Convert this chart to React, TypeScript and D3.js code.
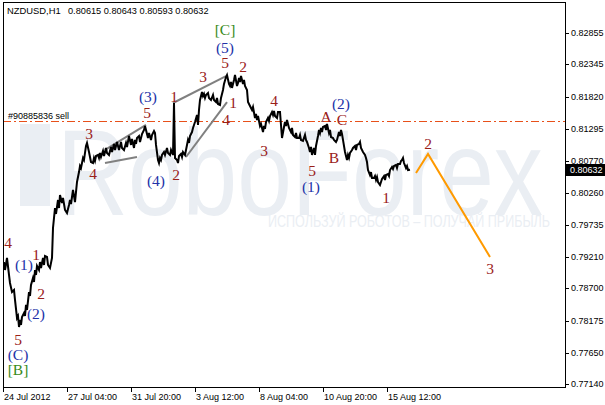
import React from 'react';
import * as d3 from 'd3';

const W = 605;
const H = 405;

const symbolName = 'NZDUSD,H1';
const symbolQuotes = '0.80615 0.80643 0.80593 0.80632';
const yTicks = [0.82855, 0.82345, 0.8182, 0.81295, 0.8077, 0.8026, 0.79735, 0.7921, 0.787, 0.78175, 0.7765, 0.7714];
const xTickBars = [0, 64, 128, 192, 256, 320, 384];
const xTickLabels = ['24 Jul 2012', '27 Jul 04:00', '31 Jul 20:00', '3 Aug 12:00', '8 Aug 04:00', '10 Aug 20:00', '15 Aug 12:00'];
const lastPrice = 0.80632;
const sellLevel = 0.81424;
const sellLabel = '#90885836 sell';
const watermarkText = 'RoboForex';
const watermarkSub = 'ИСПОЛЬЗУЙ РОБОТОВ – ПОЛУЧАЙ ПРИБЫЛЬ';

// [bar index, price]
const closeSeries: [number, number][] = [
  [1,0.79129],[2,0.79000],[4,0.79195],[6,0.78919],[7,0.78788],[9,0.78641],[11,0.78674],[12,0.78512],
  [14,0.78219],[15,0.78251],[16,0.78072],[17,0.78186],[18,0.78105],[19,0.78235],[21,0.78300],[22,0.78251],
  [23,0.78431],[24,0.78349],[26,0.78641],[27,0.78576],[28,0.78756],[30,0.78870],[31,0.78804],[32,0.79000],
  [33,0.78919],[34,0.79064],[36,0.79000],[37,0.79129],[38,0.79032],[40,0.79195],[41,0.79081],[42,0.79227],
  [44,0.79211],[45,0.79081],[47,0.79032],[49,0.79195],[50,0.79683],[52,0.80008],[53,0.79911],[55,0.80138],
  [56,0.80008],[57,0.80220],[59,0.80089],[60,0.80171],[62,0.79976],[64,0.79927],[66,0.80057],[67,0.80138],
  [68,0.80073],[70,0.80301],[72,0.80105],[74,0.80431],[76,0.80593],[77,0.80691],[78,0.80659],[80,0.80822],
  [81,0.80789],[83,0.81017],[84,0.81066],[86,0.80919],[88,0.80756],[90,0.80740],[91,0.80822],[92,0.80773],
  [93,0.80854],[95,0.80871],[96,0.80822],[97,0.80903],[98,0.80838],[100,0.80936],[101,0.80854],[103,0.80985],
  [104,0.80903],[106,0.80871],[108,0.81001],[109,0.80919],[111,0.81050],[112,0.80952],[114,0.81082],[116,0.80952],
  [118,0.81082],[119,0.80985],[121,0.80952],[123,0.81066],[124,0.81001],[126,0.81179],[128,0.81034],[129,0.81131],
  [131,0.80985],[132,0.81115],[133,0.81050],[134,0.81147],[136,0.81179],[137,0.81082],[139,0.81212],[141,0.81277],
  [142,0.81342],[144,0.81212],[145,0.81147],[146,0.81228],[148,0.81115],[149,0.81196],[151,0.81261],[152,0.81228],
  [153,0.81034],[155,0.80789],[156,0.80740],[157,0.80822],[158,0.80789],[159,0.80871],[161,0.80919],[162,0.80871],
  [164,0.80985],[165,0.80903],[167,0.80871],[168,0.80952],[170,0.80871],[171,0.81716],[172,0.80822],[174,0.80789],
  [175,0.80740],[176,0.80854],[178,0.80887],[179,0.80838],[180,0.80919],[182,0.80871],[184,0.81034],[185,0.81115],
  [186,0.81066],[187,0.81179],[189,0.81244],[190,0.81310],[192,0.81407],[194,0.81522],[195,0.81359],[196,0.81603],
  [197,0.81765],[199,0.81895],[200,0.81830],[201,0.81863],[202,0.81798],[203,0.81847],[205,0.81879],[206,0.81798],
  [208,0.81765],[210,0.81847],[211,0.81765],[213,0.81732],[214,0.81798],[215,0.81700],[217,0.81684],[218,0.81798],
  [220,0.81928],[221,0.82026],[223,0.82139],[224,0.82172],[226,0.82026],[227,0.81993],[228,0.82058],[229,0.81961],
  [231,0.82091],[232,0.82172],[234,0.81993],[235,0.82042],[236,0.82123],[237,0.82058],[238,0.82155],[240,0.82026],
  [241,0.82091],[242,0.81993],[244,0.81928],[245,0.81732],[247,0.81667],[249,0.81603],[250,0.81651],[252,0.81473],
  [253,0.81538],[254,0.81440],[255,0.81505],[257,0.81342],[258,0.81375],[260,0.81244],[261,0.81342],[262,0.81294],
  [263,0.81407],[265,0.81473],[266,0.81424],[267,0.81505],[269,0.81570],[270,0.81522],[271,0.81587],[272,0.81505],
  [274,0.81473],[275,0.81570],[277,0.81570],[278,0.81359],[279,0.81147],[281,0.81326],[282,0.81407],[283,0.81342],
  [284,0.81440],[286,0.81310],[288,0.81244],[289,0.81310],[290,0.81196],[292,0.81163],[293,0.81228],[294,0.81147],
  [296,0.81147],[297,0.81196],[298,0.81115],[300,0.81099],[302,0.81196],[303,0.81115],[304,0.81082],[306,0.80985],
  [307,0.80919],[308,0.81001],[309,0.80871],[311,0.80985],[312,0.80871],[313,0.81017],[315,0.81179],[316,0.81277],
  [317,0.81228],[318,0.81310],[319,0.81244],[320,0.81326],[322,0.81342],[323,0.81277],[324,0.81375],[326,0.81228],
  [327,0.81277],[328,0.81163],[330,0.81147],[331,0.81115],[333,0.81082],[334,0.81115],[336,0.81244],[337,0.81179],
  [338,0.81277],[339,0.81212],[340,0.81115],[342,0.80919],[344,0.80789],[345,0.80871],[346,0.80822],[347,0.80903],
  [349,0.80952],[350,0.80985],[352,0.81017],[353,0.80952],[354,0.81034],[356,0.81050],[357,0.81082],[358,0.80985],
  [360,0.80919],[362,0.80871],[363,0.80822],[364,0.80756],[365,0.80626],[367,0.80545],[368,0.80593],[369,0.80496],
  [371,0.80496],[372,0.80528],[373,0.80464],[374,0.80512],[375,0.80431],[377,0.80383],[378,0.80431],[379,0.80480],
  [381,0.80528],[382,0.80464],[383,0.80545],[385,0.80561],[386,0.80528],[387,0.80626],[389,0.80675],[390,0.80643],
  [391,0.80691],[393,0.80708],[394,0.80659],[395,0.80724],[397,0.80724],[398,0.80773],[399,0.80789],[400,0.80822],
  [401,0.80740],[403,0.80659],[404,0.80691],[405,0.80626],[407,0.80632],
];

// Elliott wave labels: text, bar, price
const waveText = ['4','(1)','1','2','(2)','5','(C)','[B]','3','4','(3)','5','(4)','1','2','3','5','(5)','[C]','2','1','4','4','3','5','(1)','A','(2)','C','B','1','2','3'];
const waveBar = [5,21,33,38,33,15,15,15,86,90,145,144,153,171,173,200,222,222,222,240,230,223,271,261,309,308,323,338,339,331,383,425,487];
const wavePrice = [0.79439,0.79097,0.79244,0.78625,0.78284,0.77861,0.77617,0.77373,0.81228,0.80577,0.81814,0.81554,0.80448,0.81814,0.80545,0.82155,0.82383,0.82627,0.82904,0.82318,0.81732,0.8144,0.81749,0.80936,0.8061,0.8035,0.81489,0.81716,0.8144,0.80822,0.80171,0.8105,0.79016];

// gray wedge lines [bar1, price1, bar2, price2]
const wedgeLines: [number, number, number, number][] = [
  [102, 0.80952, 143, 0.81359],
  [102, 0.8074, 134, 0.80838],
  [170, 0.81716, 223, 0.82155],
  [183, 0.80838, 224, 0.81732],
];

// forecast path
const forecastBars = [413, 425, 487];
const forecastPrices = [0.80577, 0.80887, 0.79211];

const colorFor = (t: string) => {
  if (t.startsWith('[')) return '#3a8a18';
  if (t.startsWith('(')) return '#2232a8';
  return '#9a2018';
};

export default function App() {
  const left = 3, right = 565, top = 2, bottom = 387;
  const x = d3.scaleLinear().domain([0, 562]).range([left, right]);
  const y = d3.scaleLinear().domain([0.7714, 0.82855]).range([384.3, 33]);
  const line = d3.line<[number, number]>().x(d => x(d[0])).y(d => y(d[1]));
  const fc: [number, number][] = forecastBars.map((b, i) => [b, forecastPrices[i]]);
  const sans = 'Liberation Sans, Arial, sans-serif';
  const serif = 'Liberation Serif, Times New Roman, serif';
  const wm = '#eaeef3';

  return (
    <svg width={W} height={H} style={{ position: 'absolute', left: 0, top: 0, background: '#fff' }}>
      <rect x={0} y={0} width={W} height={H} fill="#fff" />
      {/* watermark */}
      <rect x={20} y={124} width={30} height={82} fill={wm} />
      <text x={57} y={215} fontFamily={sans} fontSize={122} fill={wm} textLength={486} lengthAdjust="spacingAndGlyphs">{watermarkText}</text>
      <text x={268} y={227} fontFamily={sans} fontSize={16} fill={wm} textLength={282} lengthAdjust="spacingAndGlyphs">{watermarkSub}</text>

      {/* sell level */}
      <line x1={left} x2={right} y1={Math.round(y(sellLevel)) + 0.5} y2={Math.round(y(sellLevel)) + 0.5} stroke="#e8501a" strokeWidth={1} strokeDasharray="8 3 2 3" />
      <text x={8} y={y(sellLevel) - 2} fontFamily={sans} fontSize={9} fill="#000">{sellLabel}</text>

      {/* wedge lines */}
      {wedgeLines.map((w, i) => (
        <line key={i} x1={x(w[0])} y1={y(w[1])} x2={x(w[2])} y2={y(w[3])} stroke="#808080" strokeWidth={2} />
      ))}

      {/* price */}
      <path d={line(closeSeries) || ''} fill="none" stroke="#000" strokeWidth={2} strokeLinejoin="miter" />

      {/* forecast */}
      <path d={line(fc) || ''} fill="none" stroke="#ff9a00" strokeWidth={2} />

      {/* wave labels */}
      {waveText.map((t, i) => (
        <text key={i} x={x(waveBar[i])} y={y(wavePrice[i])} textAnchor="middle" dominantBaseline="central"
          fontFamily={serif} fontSize={15.5} fill={colorFor(t)}>{t}</text>
      ))}

      {/* frame */}
      <rect x={left + 0.5} y={top + 0.5} width={right - left} height={bottom - top} fill="none" stroke="#000" strokeWidth={1} />

      {/* y axis */}
      {yTicks.map((v, i) => (
        <g key={i}>
          <line x1={right} x2={right + 4} y1={Math.round(y(v)) + 0.5} y2={Math.round(y(v)) + 0.5} stroke="#000" />
          <text x={571} y={y(v) + 3} fontFamily={sans} fontSize={9} fill="#000">{v.toFixed(5)}</text>
        </g>
      ))}
      <rect x={566} y={Math.round(y(lastPrice)) - 6} width={39} height={12} fill="#000" />
      <text x={570} y={y(lastPrice) + 3.5} fontFamily={sans} fontSize={9} fill="#fff">{lastPrice.toFixed(5)}</text>

      {/* x axis */}
      {xTickBars.map((b, i) => (
        <g key={i}>
          <line x1={Math.round(x(b)) + 0.5} x2={Math.round(x(b)) + 0.5} y1={bottom} y2={bottom + 5} stroke="#000" />
          <text x={x(b) + 1} y={400} fontFamily={sans} fontSize={9} fill="#000">{xTickLabels[i]}</text>
        </g>
      ))}

      {/* title */}
      <text x={7} y={14} fontFamily={sans} fontSize={9.4} fill="#000">{symbolName}</text>
      <text x={68} y={14} fontFamily={sans} fontSize={9.2} fill="#000">{symbolQuotes}</text>
    </svg>
  );
}
